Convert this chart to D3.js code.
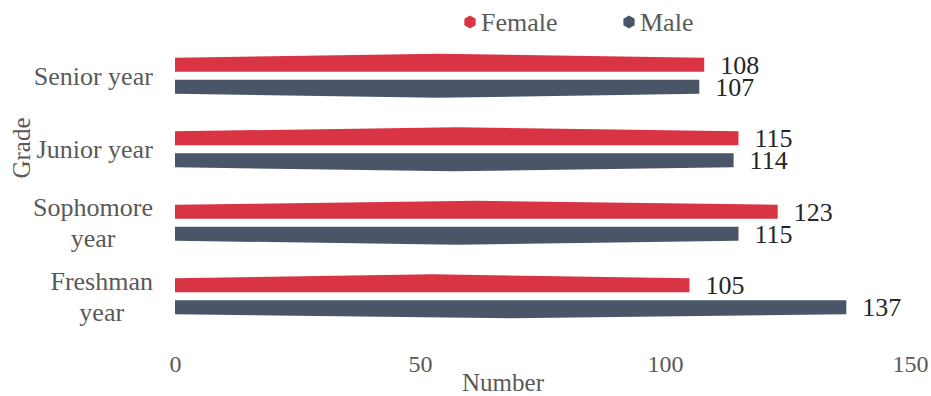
<!DOCTYPE html>
<html>
<head>
<meta charset="utf-8">
<script src="https://cdn.jsdelivr.net/npm/d3@7"></script>
<style>
  body { margin: 0; background: #fff; }
  text { font-family: "Liberation Serif", "Times New Roman", serif; }
</style>
</head>
<body>
<div class="container"></div>
<script>
const WIDTH = 931;
const HEIGHT = 396;

var grades = ["Senior year", "Junior year", "Sophomore year", "Freshman year"];
var gradeLines = [["Senior year"], ["Junior year"], ["Sophomore", "year"], ["Freshman", "year"]];
var female = [108, 115, 123, 105];
var male = [107, 114, 115, 137];
var seriesNames = ["Female", "Male"];
var xTicks = [0, 50, 100, 150];

var RED = "#d93444";
var SLATE = "#4a5668";

var xScale = d3.scaleLinear()
    .domain([0, 150])
    .range([175, 910]);

var yScale = d3.scaleBand()
    .domain(grades)
    .range([39, 333]);

var svg = d3.select('.container').append('svg')
    .attr('width', WIDTH)
    .attr('height', HEIGHT);

// spindle shaped bar: flat on the inner side, peaked on the outer side
var barPath = function (v, yc, dir) {
    var x0 = xScale(0), x1 = xScale(v), xm = (x0 + x1) / 2;
    var inner = yc + dir * 4, outer = yc + dir * 18, peak = yc + dir * 22;
    return "M" + x0 + "," + inner + "L" + x1 + "," + inner +
        "L" + x1 + "," + outer + "L" + xm + "," + peak +
        "L" + x0 + "," + outer + "Z";
};

var rows = grades.map(function (g, i) {
    return {grade: g, lines: gradeLines[i], f: female[i], m: male[i]};
});

var center = function (d) { return yScale(d.grade) + yScale.bandwidth() / 2; };

var g = svg.append('g');

g.selectAll('path.female').data(rows).enter().append('path')
    .attr('class', 'female')
    .attr('d', function (d) { return barPath(d.f, center(d), -1); })
    .attr('fill', RED);

g.selectAll('path.male').data(rows).enter().append('path')
    .attr('class', 'male')
    .attr('d', function (d) { return barPath(d.m, center(d), 1); })
    .attr('fill', SLATE);

// value labels
g.selectAll('text.fval').data(rows).enter().append('text')
    .attr('x', function (d) { return xScale(d.f) + 16; })
    .attr('y', function (d) { return center(d) - 11; })
    .attr('dy', '0.35em')
    .attr('font-size', 26)
    .attr('fill', '#262626')
    .text(function (d) { return d.f; });

g.selectAll('text.mval').data(rows).enter().append('text')
    .attr('x', function (d) { return xScale(d.m) + 16; })
    .attr('y', function (d) { return center(d) + 11; })
    .attr('dy', '0.35em')
    .attr('font-size', 26)
    .attr('fill', '#262626')
    .text(function (d) { return d.m; });

// category labels, each line centred, block right-aligned at x=153
var cat = g.selectAll('text.cat').data(rows).enter().append('text')
    .attr('font-size', 26)
    .attr('fill', '#595959')
    .attr('text-anchor', 'middle');
cat.each(function (d) {
    var t = d3.select(this);
    var n = d.lines.length;
    d.lines.forEach(function (line, k) {
        t.append('tspan')
            .attr('x', 0)
            .attr('y', center(d) + (k - (n - 1) / 2) * 31)
            .attr('dy', '0.35em')
            .text(line);
    });
    var bb = this.getBBox();
    t.selectAll('tspan').attr('x', 153 - bb.width / 2);
});

// x axis tick labels
var xAxis = d3.axisBottom(xScale).tickValues(xTicks).tickSize(0).tickPadding(0);
var ax = svg.append('g')
    .attr('transform', 'translate(0,355)')
    .call(xAxis);
ax.select('.domain').remove();
ax.selectAll('text')
    .attr('font-family', '"Liberation Serif", serif')
    .attr('font-size', 24)
    .attr('fill', '#595959')
    .attr('dy', '0.71em');

svg.append('text')
    .attr('x', 503)
    .attr('y', 391)
    .attr('text-anchor', 'middle')
    .attr('font-size', 25)
    .attr('fill', '#595959')
    .text('Number');

svg.append('text')
    .attr('transform', 'translate(30,148) rotate(-90)')
    .attr('text-anchor', 'middle')
    .attr('font-size', 25)
    .attr('fill', '#595959')
    .text('Grade');

// legend
var legendX = [470, 629];
var legendColors = [RED, SLATE];
var lg = svg.append('g').selectAll('g').data(seriesNames).enter().append('g')
    .attr('transform', function (d, i) { return 'translate(' + legendX[i] + ',22)'; });
lg.append('path')
    .attr('d', function () {
        var r = 6.5, pts = [];
        for (var k = 0; k < 6; k++) {
            var a = Math.PI / 6 + k * Math.PI / 3;
            pts.push([r * Math.cos(a), r * Math.sin(a)]);
        }
        return d3.line()(pts) + 'Z';
    })
    .attr('fill', function (d, i) { return legendColors[i]; });
lg.append('text')
    .attr('x', 11)
    .attr('dy', '0.35em')
    .attr('font-size', 26)
    .attr('fill', '#595959')
    .text(function (d) { return d; });
</script>
</body>
</html>
